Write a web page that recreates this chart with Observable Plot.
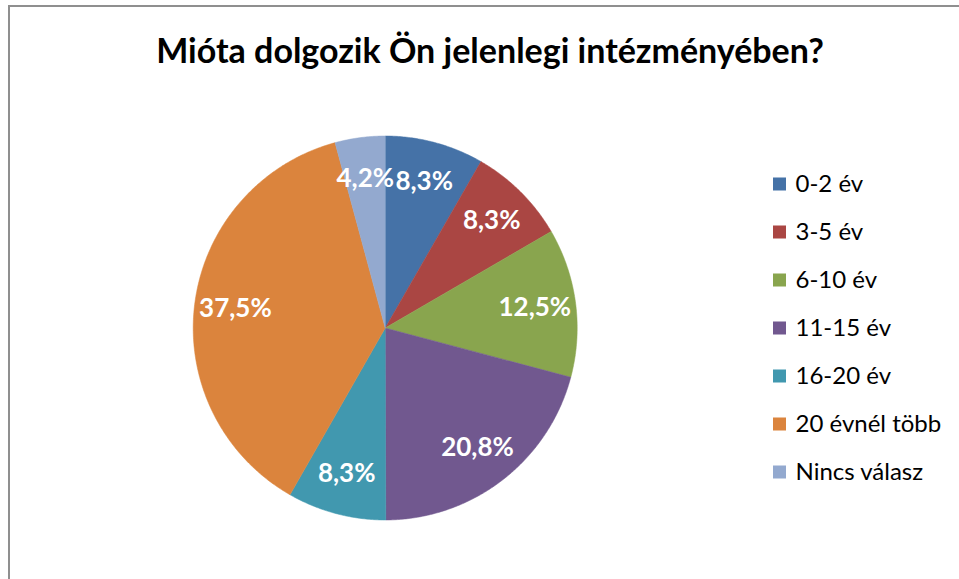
<!DOCTYPE html>
<html><head><meta charset="utf-8">
<script src="https://cdn.jsdelivr.net/npm/d3@7"></script>
<script src="https://cdn.jsdelivr.net/npm/@observablehq/plot@0.6"></script>
<style>
body{margin:0;background:#fff;}
#wrap{position:relative;width:959px;height:579px;overflow:hidden;font-family:Lato,"Open Sans",sans-serif;}
#border{position:absolute;left:8px;top:5px;right:-10px;bottom:-10px;border-left:2px solid #8f8f8f;border-top:2px solid #8f8f8f;}
#title{position:absolute;left:0;width:980px;top:30px;text-align:center;font-weight:bold;font-size:34px;line-height:40px;color:#000;white-space:nowrap;}
#chart{position:absolute;left:0;top:96px;}
</style></head><body>
<div id="wrap"><div id="border"></div><div id="title">Mióta dolgozik Ön jelenlegi intézményében?</div><div id="chart"></div></div>
<script>
const categories = ["0-2 év","3-5 év","6-10 év","11-15 év","16-20 év","20 évnél több","Nincs válasz"];
const values = [8.3, 8.3, 12.5, 20.8, 8.3, 37.5, 4.2];
const labels = ["8,3%","8,3%","12,5%","20,8%","8,3%","37,5%","4,2%"];
const colors = ["#4572A7","#AA4643","#89A54E","#71588F","#4198AF","#DB843D","#93A9CF"];

const W = 959, H = 483;
const cx = 384.7, cy = 231.5, R = 192, rLab = 151;
const arcs = d3.pie().sort(null).value(d => d)(values);

const polys = [];
arcs.forEach((a, i) => {
  polys.push({cat: categories[i], x: cx, y: cy});
  const n = Math.max(4, Math.ceil((a.endAngle - a.startAngle) * 180 / Math.PI * 2));
  for (let k = 0; k <= n; k++) {
    const t = a.startAngle + (a.endAngle - a.startAngle) * k / n;
    polys.push({cat: categories[i], x: cx + R * Math.sin(t), y: cy - R * Math.cos(t)});
  }
  polys.push({cat: categories[i], x: cx, y: cy});
});
const labData = arcs.map((a, i) => {
  const m = (a.startAngle + a.endAngle) / 2;
  return {label: labels[i], x: cx + rLab * Math.sin(m), y: cy - rLab * Math.cos(m)};
});
const legX = 773, legY0 = 88, legStep = 48, sw = 13;
const legData = categories.map((c, i) => ({cat: c, y: legY0 + i * legStep}));

const chart = Plot.plot({
  width: W, height: H, margin: 0,
  style: {fontFamily: "Lato, 'Open Sans', sans-serif", background: "transparent", overflow: "visible"},
  x: {domain: [0, W], range: [0, W], axis: null},
  y: {domain: [0, H], range: [0, H], axis: null},
  color: {domain: categories, range: colors},
  marks: [
    Plot.line(polys, {x: "x", y: "y", z: "cat", fill: "cat", stroke: "cat", strokeWidth: 0.5, curve: "linear"}),
    Plot.text(labData, {x: "x", y: "y", text: "label", fill: "white", fontSize: 26, fontWeight: "bold", textAnchor: "middle", lineAnchor: "middle"}),
    Plot.rect(legData, {x1: legX, x2: legX + sw, y1: d => d.y - sw / 2, y2: d => d.y + sw / 2, fill: "cat"}),
    Plot.text(legData, {x: legX + 22, y: "y", text: "cat", fill: "black", fontSize: 24, textAnchor: "start", lineAnchor: "middle"})
  ]
});
document.getElementById("chart").appendChild(chart);
</script>
</body></html>
